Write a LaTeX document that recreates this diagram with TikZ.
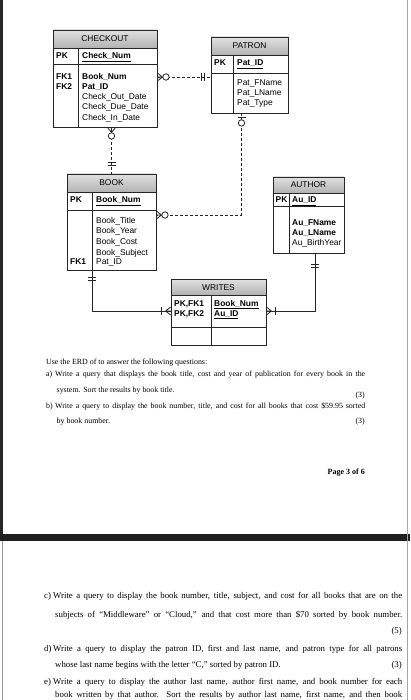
\documentclass[tikz,border=0pt]{standalone}
\usepackage{fontspec}
\setmainfont{Liberation Serif}
\newfontfamily\arialf{Liberation Sans}
\usetikzlibrary{fit}
\tikzset{
  mk/.style={draw=black!85, line width=0.8pt, solid},
  zmany/.pic={\draw[mk] (0,-4) -- (5,0) (0,0) -- (5,0) (0,4) -- (5,0);
              \draw[mk, fill=white] (8.5,0) circle[radius=3.2];},
  omany/.pic={\draw[mk] (0,-4) -- (5,0) (0,0) -- (5,0) (0,4) -- (5,0);
              \draw[mk] (9,-4) -- (9,4);},
  zone/.pic={\draw[mk] (4,-4) -- (4,4);
             \draw[mk, fill=white] (9.5,0) circle[radius=3.2];},
  onebar/.pic={\draw[mk] (#1,-4) -- (#1,4) (#1+3,-4) -- (#1+3,4);}
}
\begin{document}
\begin{tikzpicture}[x=1pt,y=-1pt,
  tbl/.style={draw=black!85, line width=0.9pt, inner sep=0pt},
  hdrfill/.style={top color=black!12, bottom color=black!30},
  sep/.style={draw=black!85, line width=0.8pt},
  ent/.style={font=\arialf\fontsize{8.4}{10}\selectfont, anchor=west, inner sep=0pt, text height=6pt, text depth=0pt},
  keyt/.style={ent, font=\arialf\bfseries\fontsize{8.4}{10}\selectfont},
  ttl/.style={ent, anchor=center},
  rel/.style={draw=black!85, line width=0.8pt},
  optl/.style={rel, dash pattern=on 3pt off 2pt},
  body/.style={font=\fontsize{7.9}{9}\selectfont, anchor=base west, inner sep=0pt},
  bodyr/.style={body, anchor=base east},
  bodyb/.style={font=\fontsize{8.8}{10}\selectfont, anchor=base west, inner sep=0pt},
  bodybr/.style={bodyb, anchor=base east}
]
\useasboundingbox (0,0) rectangle (410,700);
\clip (0,0) rectangle (410,700);
\fill[white] (0,0) rectangle (410,700);
% page edges
\fill[black!85] (0,0) rectangle (3,534);
\fill[black!88] (0,534) rectangle (410,541);
\draw[black!35, line width=1pt] (407.5,0) -- (407.5,700);
\draw[black!40, line width=0.8pt] (2.5,541) -- (2.5,700);

% ---------- CHECKOUT ----------
\shade[hdrfill] (53,30) rectangle (157,48);
\node[tbl, fit={(53,30) (157,127)}] (checkout) {};
\draw[sep] (53,48) -- (157,48) (53,64) -- (157,64) (78,48) -- (78,127);
\node[ttl] (cot) at (105,39) {CHECKOUT};
\node[keyt] (copk) at (56,56) {PK};
\node[keyt] (conum) at (82,56) {\underline{Check\_Num}};
\node[keyt] (fk1) at (56,77) {FK1};
\node[keyt] (fk2) at (56,87) {FK2};
\node[keyt] (cobk) at (82,77) {Book\_Num};
\node[keyt] (copat) at (82,87) {Pat\_ID};
\node[ent] (coout) at (82,97) {Check\_Out\_Date};
\node[ent] (codue) at (82,107) {Check\_Due\_Date};
\node[ent] (coin) at (82,118) {Check\_In\_Date};

% ---------- PATRON ----------
\shade[hdrfill] (211,37) rectangle (288,55);
\node[tbl, fit={(211,37) (288,113)}] (patron) {};
\draw[sep] (211,55) -- (288,55) (211,73) -- (288,73) (233,55) -- (233,113);
\node[ttl] (pat) at (249.5,46) {PATRON};
\node[keyt] (papk) at (214,63) {PK};
\node[keyt] (paid) at (237,63) {\underline{Pat\_ID}};
\node[ent] (pafn) at (237,83) {Pat\_FName};
\node[ent] (paln) at (237,93) {Pat\_LName};
\node[ent] (paty) at (237,103) {Pat\_Type};

% ---------- BOOK ----------
\shade[hdrfill] (67,174) rectangle (156,192);
\node[tbl, fit={(67,174) (156,270)}] (book) {};
\draw[sep] (67,192) -- (156,192) (67,210) -- (156,210) (92,192) -- (92,270);
\node[ttl] (bot) at (111.5,183) {BOOK};
\node[keyt] (bopk) at (70,200) {PK};
\node[keyt] (bonum) at (96,200) {\underline{Book\_Num}};
\node[ent] (boti) at (96,221) {Book\_Title};
\node[ent] (boye) at (96,231) {Book\_Year};
\node[ent] (boco) at (96,241) {Book\_Cost};
\node[ent] (bosu) at (96,252) {Book\_Subject};
\node[ent] (bopat) at (96,262) {Pat\_ID};
\node[keyt] (bofk) at (70,262) {FK1};

% ---------- AUTHOR ----------
\shade[hdrfill] (273,177) rectangle (344,193);
\node[tbl, fit={(273,177) (344,253)}] (author) {};
\draw[sep] (273,193) -- (344,193) (273,206) -- (344,206) (289,193) -- (289,253);
\node[ttl] (aut) at (308.5,185) {AUTHOR};
\node[keyt] (aupk) at (275.5,199.5) {PK};
\node[keyt] (auid) at (292,199.5) {\underline{Au\_ID}};
\node[keyt] (aufn) at (292,223) {Au\_FName};
\node[keyt] (auln) at (292,233) {Au\_LName};
\node[ent] (auby) at (292,243) {Au\_BirthYear};

% ---------- WRITES ----------
\shade[hdrfill] (171,279) rectangle (266,295);
\node[tbl, fit={(171,279) (266,345)}] (writes) {};
\draw[sep] (171,295) -- (266,295) (171,327) -- (266,327) (211,295) -- (211,345);
\node[ttl] (wrt) at (218.5,287) {WRITES};
\node[keyt] (wrk1) at (174,303) {PK,FK1};
\node[keyt] (wrk2) at (174,313) {PK,FK2};
\node[keyt] (wrbk) at (214,303) {\underline{Book\_Num}};
\node[keyt] (wrau) at (214,313) {\underline{Au\_ID}};

% ---------- relationships ----------
% CHECKOUT - PATRON
\draw[optl] (checkout.east |- fk1) -- (patron.west |- fk1);
\pic at (checkout.east |- fk1) {zmany};
\pic[rotate=180] at (patron.west |- fk1) {onebar=6};
% CHECKOUT - BOOK
\draw[optl] (checkout.south -| book.north) -- (book.north);
\pic[rotate=-90] at (checkout.south -| book.north) {zmany};
\pic[rotate=90] at (book.north) {onebar=8};
% PATRON - BOOK
\coordinate (patbk) at (241.5,215);
\draw[optl] (patbk |- patron.south) -- (patbk) -- (patbk -| book.east);
\pic[rotate=-90] at (patbk |- patron.south) {zone};
\pic at (patbk -| book.east) {zmany};
% BOOK - WRITES
\coordinate (bkwr) at (92,311);
\draw[rel] (bkwr |- book.south) -- (bkwr) -- (bkwr -| writes.west);
\pic[rotate=-90] at (bkwr |- book.south) {onebar=7};
\pic[rotate=180] at (bkwr -| writes.west) {omany};
% AUTHOR - WRITES
\coordinate (auwr) at (315,311);
\draw[rel] (auwr |- author.south) -- (auwr) -- (auwr -| writes.east);
\pic[rotate=-90] at (auwr |- author.south) {onebar=11};
\pic at (auwr -| writes.east) {omany};

% ---------- page 1 text ----------
\node[body] (q0) at (46,364.5) {Use the ERD of to answer the following questions:};
\node[body] (qa) at (46,376.5) {a)};
\node[body] (qa1) at (55,376.5) {\makebox[310pt][s]{Write a query that displays the book title, cost and year of publication for every book in the}};
\node[body] (qa2) at (56.5,392.5) {system. Sort the results by book title.};
\node[bodyr] (qam) at (365,397) {(3)};
\node[body] (qb) at (46,408.5) {b)};
\node[body] (qb1) at (55,408.5) {\makebox[310pt][s]{Write a query to display the book number, title, and cost for all books that cost \$59.95 sorted}};
\node[body] (qb2) at (56.5,423.5) {by book number.};
\node[bodyr] (qbm) at (365,423.5) {(3)};
\node[body, anchor=base east, font=\bfseries\fontsize{8}{9}\selectfont] (pg) at (365,474) {Page 3 of 6};

% ---------- page 2 text ----------
\node[bodyb] (qc) at (44,598) {c)};
\node[bodyb] (qc1) at (53,598) {\makebox[349pt][s]{Write a query to display the book number, title, subject, and cost for all books that are on the}};
\node[bodyb] (qc2) at (55,617) {\makebox[347pt][s]{subjects of “Middleware” or “Cloud,” and that cost more than \$70 sorted by book number.}};
\node[bodybr] (qcm) at (402,633) {(5)};
\node[bodyb] (qd) at (44,651) {d)};
\node[bodyb] (qd1) at (53,651) {\makebox[349pt][s]{Write a query to display the patron ID, first and last name, and patron type for all patrons}};
\node[bodyb] (qd2) at (55,667) {whose last name begins with the letter “C,” sorted by patron ID.};
\node[bodybr] (qdm) at (402,667) {(3)};
\node[bodyb] (qe) at (44,684) {e)};
\node[bodyb] (qe1) at (53,684) {\makebox[349pt][s]{Write a query to display the author last name, author first name, and book number for each}};
\node[bodyb] (qe2) at (55,697.5) {\makebox[347pt][s]{book written by that author. Sort the results by author last name, first name, and then book}};
\end{tikzpicture}
\end{document}
